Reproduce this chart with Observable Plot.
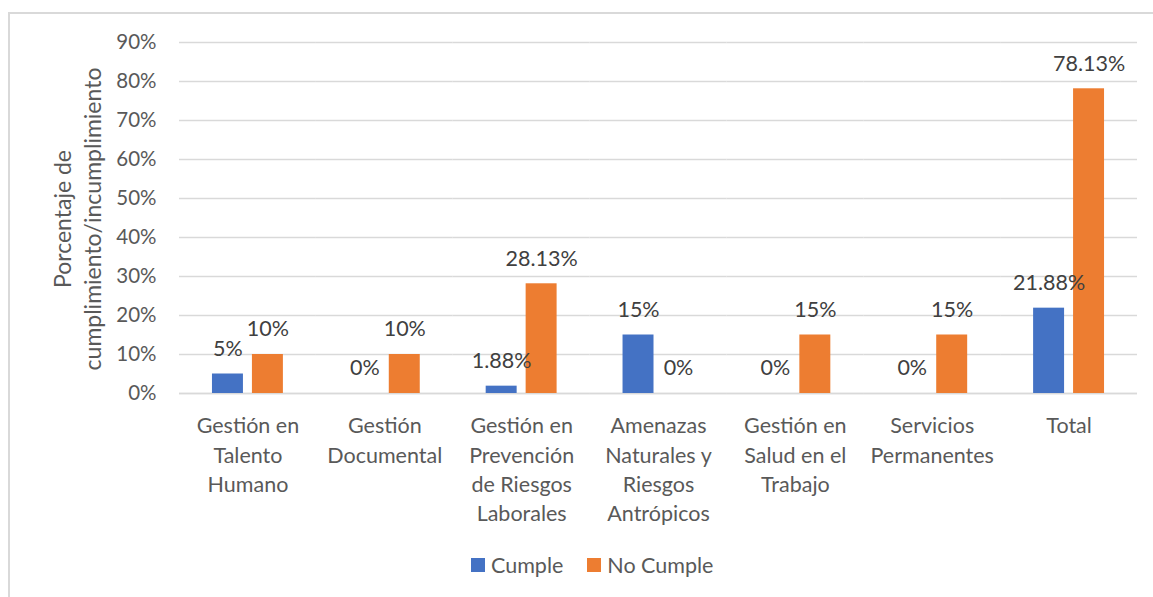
<!DOCTYPE html>
<html>
<head>
<meta charset="utf-8">
<script src="https://cdn.jsdelivr.net/npm/d3@7"></script>
<script src="https://cdn.jsdelivr.net/npm/@observablehq/plot@0.6"></script>
<style>
  html, body { margin: 0; padding: 0; background: #fff; }
  #wrap { position: relative; width: 1153px; height: 597px; overflow: hidden; font-family: Lato, "Noto Sans", sans-serif; color: #595959; }
  #frame { position: absolute; left: 8px; top: 12px; width: 1160px; height: 600px; border: 2px solid #d9d9d9; box-sizing: border-box; }
  #chart { position: absolute; left: 0; top: 0; }
  #ytitle { position: absolute; left: 77px; top: 219px; width: 380px; transform: translate(-50%, -50%) rotate(-90deg); text-align: center; font-size: 23px; line-height: 30px; color: #595959; white-space: nowrap; }
  #legend { position: absolute; left: 471px; top: 552px; display: flex; align-items: center; font-size: 21.5px; color: #595959; }
  .sw { display: inline-block; width: 14px; height: 14px; margin-right: 6px; }
  .item { display: flex; align-items: center; margin-right: 24px; }
</style>
</head>
<body>
<div id="wrap">
  <div id="frame"></div>
  <div id="chart"></div>
  <div id="ytitle">Porcentaje de<br>cumplimiento/incumplimiento</div>
  <div id="legend"></div>
</div>
<script>
const categories = ["Gestión en Talento Humano", "Gestión Documental", "Gestión en Prevención de Riesgos Laborales", "Amenazas Naturales y Riesgos Antrópicos", "Gestión en Salud en el Trabajo", "Servicios Permanentes", "Total"];
const categoryLabels = ["Gestión en\nTalento\nHumano", "Gestión\nDocumental", "Gestión en\nPrevención\nde Riesgos\nLaborales", "Amenazas\nNaturales y\nRiesgos\nAntrópicos", "Gestión en\nSalud en el\nTrabajo", "Servicios\nPermanentes", "Total"];
const series = ["Cumple", "No Cumple"];
const cumple = [5, 0, 1.88, 15, 0, 0, 21.88];
const noCumple = [10, 10, 28.13, 0, 15, 15, 78.13];
const seriesColors = ["#4472C4", "#ED7D31"];
const yTicks = [0, 10, 20, 30, 40, 50, 60, 70, 80, 90];

const data = [];
categories.forEach((c, i) => {
  data.push({cat: c, serie: series[0], value: cumple[i]});
  data.push({cat: c, serie: series[1], value: noCumple[i]});
});
const labelOf = new Map(categories.map((c, i) => [c, categoryLabels[i]]));

const W = 1153, H = 540;
const plot = Plot.plot({
  width: W,
  height: H,
  marginTop: 42,
  marginBottom: H - 393,
  marginLeft: 179,
  marginRight: 16,
  style: {fontFamily: "Lato, 'Noto Sans', sans-serif", fontSize: "20.5px", color: "#595959", background: "transparent"},
  fx: {domain: categories, padding: 0, round: false, label: null},
  x: {domain: series, paddingInner: 0.225, paddingOuter: 0.825, round: false, axis: null},
  y: {domain: [0, 90], label: null},
  color: {domain: series, range: seriesColors},
  marks: [
    Plot.gridY(yTicks, {stroke: "#d9d9d9", strokeOpacity: 1, strokeWidth: 1.3}),
    Plot.ruleY([0], {stroke: "#d9d9d9", strokeWidth: 1.6}),
    Plot.axisY(yTicks, {tickSize: 0, tickPadding: 23, tickFormat: d => d + "%", label: null, fill: "#595959"}),
    Plot.axisFx({anchor: "bottom", tickSize: 0, tickPadding: 19, label: null, lineHeight: 1.36, fontSize: 21.5, tickFormat: d => labelOf.get(d), fill: "#595959"}),
    Plot.barY(data, {fx: "cat", x: "serie", y: "value", fill: "serie"}),
    Plot.text(data, {fx: "cat", x: "serie", y: "value", text: d => d.value + "%", dy: -25, fill: "#404040", fontSize: 21.5})
  ]
});
document.getElementById("chart").appendChild(plot);

const legend = document.getElementById("legend");
series.forEach((s, i) => {
  const item = document.createElement("div");
  item.className = "item";
  const sw = document.createElement("span");
  sw.className = "sw";
  sw.style.background = seriesColors[i];
  item.appendChild(sw);
  item.appendChild(document.createTextNode(s));
  legend.appendChild(item);
});
</script>
</body>
</html>
